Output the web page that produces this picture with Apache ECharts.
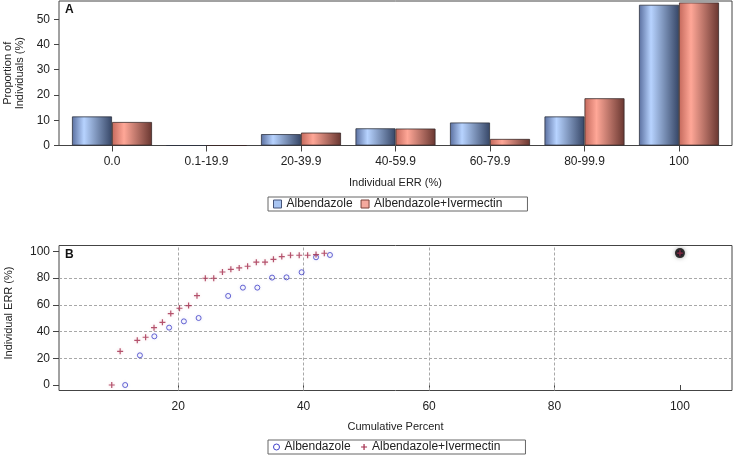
<!DOCTYPE html>
<html><head><meta charset="utf-8">
<script src="https://cdn.jsdelivr.net/npm/echarts@6/dist/echarts.min.js"></script>
<style>html,body{margin:0;padding:0;background:#fff}#c{width:733px;height:456px}</style>
</head><body><div id="c"></div>
<script>
// ---- Panel A data ----
const categories = ['0.0', '0.1-19.9', '20-39.9', '40-59.9', '60-79.9', '80-99.9', '100'];
const albendazoleBars = [11.5, 0, 4.5, 6.8, 9.1, 11.5, 55.7];
const albIvermectinBars = [9.3, 0, 5.1, 6.7, 2.6, 18.7, 56.6];
const yTicksA = [0, 10, 20, 30, 40, 50];

// ---- Panel B data: [cumulative percent, individual ERR] ----
const albendazolePoints = [[11.55,0],[13.9,22.2],[16.2,36.4],[18.56,42.9],[20.91,47.6],[23.26,50.1],[27.97,66.6],[30.32,72.8],[32.62,72.8],[34.97,80.3],[37.27,80.5],[39.68,84.3],[41.98,95.5],[44.2,97.2],[100,98.6]];
const albIvermectinPoints = [[9.41,0],[10.75,25.2],[13.48,33.4],[14.81,35.7],[16.15,42.9],[17.49,46.9],[18.82,53.4],[20.21,57.4],[21.66,59.4],[23.0,66.8],[24.33,79.8],[25.67,79.8],[27.06,84.5],[28.4,86.5],[29.73,87.5],[31.07,88.8],[32.46,91.8],[33.85,91.8],[35.19,94.0],[36.52,96.0],[37.91,97.0],[39.3,97.0],[40.64,97.0],[41.98,97.5],[43.3,98.5],[100,98.6]];
const overlapPoint = [[100, 98.6]];
const xTicksB = [20, 40, 60, 80, 100];
const yTicksB = [0, 20, 40, 60, 80, 100];
const refLinesB = [20, 40, 60, 80];

const FONT = '"Liberation Sans", Arial, sans-serif';
const TXT = '#222';
const FRAME = '#444';
const BLUE_PT = '#4040c8';
const RED_PT = '#a32c4c';
const crossPath = 'path://M5,0L5,10M0,5L10,5';

const blueGrad = new echarts.graphic.LinearGradient(0, 0, 1, 0, [
  {offset: 0, color: '#5a6f9f'}, {offset: 0.3, color: '#b7d3ff'}, {offset: 1, color: '#364666'}]);
const redGrad = new echarts.graphic.LinearGradient(0, 0, 1, 0, [
  {offset: 0, color: '#c4695c'}, {offset: 0.3, color: '#ffa797'}, {offset: 1, color: '#683630'}]);

const chart = echarts.init(document.getElementById('c'), null, {renderer: 'canvas'});

const refMarkData = refLinesB.map(v => ({xAxis: v})).concat(refLinesB.map(v => ({yAxis: v})));

const option = {
  animation: false,
  textStyle: {fontFamily: FONT},
  title: [
    {text: 'A', left: 65, top: 4, padding: 0, textStyle: {fontSize: 12, fontWeight: 'bold', color: '#111', fontFamily: FONT}},
    {text: 'B', left: 65, top: 249, padding: 0, textStyle: {fontSize: 12, fontWeight: 'bold', color: '#111', fontFamily: FONT}}
  ],
  legend: [
    {
      left: 268, top: 197, padding: [1, 25, 1, 5], itemGap: 8, itemWidth: 8, itemHeight: 8,
      borderColor: '#666', borderWidth: 1, selectedMode: false,
      textStyle: {fontSize: 12, color: TXT, fontFamily: FONT},
      data: [
        {name: 'Albendazole', icon: 'rect', itemStyle: {color: '#a9c5f2', borderColor: '#46557a', borderWidth: 1}},
        {name: 'Albendazole+Ivermectin', icon: 'rect', itemStyle: {color: '#f4a99d', borderColor: '#7a4038', borderWidth: 1}}
      ]
    },
    {
      left: 268, top: 440, padding: [1, 25, 1, 5], itemGap: 8, itemWidth: 6, itemHeight: 6,
      borderColor: '#666', borderWidth: 1, selectedMode: false,
      textStyle: {fontSize: 12, color: TXT, fontFamily: FONT},
      data: [
        {name: 'Albendazole', icon: 'circle', itemStyle: {color: 'rgba(0,0,0,0)', borderColor: BLUE_PT, borderWidth: 1}},
        {name: 'Albendazole+Ivermectin', icon: crossPath, itemStyle: {color: 'none', borderColor: RED_PT, borderWidth: 1.2}}
      ]
    }
  ],
  grid: [
    {left: 59, top: 1, width: 673, height: 144.5, show: true, borderColor: FRAME, borderWidth: 1, backgroundColor: 'transparent', outerBoundsMode: 'none', containLabel: false},
    {left: 64.75, top: 1, width: 661.5, height: 144.5, show: false, outerBoundsMode: 'none', containLabel: false},
    {left: 59, top: 245.5, width: 673, height: 145, show: true, borderColor: FRAME, borderWidth: 1, backgroundColor: 'transparent', outerBoundsMode: 'none', containLabel: false}
  ],
  xAxis: [
    {gridIndex: 0, type: 'value', min: 0, max: 1, show: false},
    {
      gridIndex: 1, type: 'category', data: categories,
      axisLine: {show: false},
      axisTick: {show: true, alignWithLabel: true, length: 6, lineStyle: {color: FRAME}},
      axisLabel: {fontSize: 12, color: TXT, margin: 10, interval: 0, fontFamily: FONT},
      splitLine: {show: false},
      name: 'Individual ERR (%)', nameLocation: 'middle', nameGap: 32,
      nameTextStyle: {fontSize: 11, color: TXT, fontFamily: FONT}
    },
    {
      gridIndex: 2, type: 'value', min: 1.0, max: 108.3,
      axisLine: {show: false},
      axisTick: {show: true, length: 6, lineStyle: {color: FRAME}, customValues: xTicksB},
      axisLabel: {fontSize: 12, color: TXT, margin: 10, customValues: xTicksB, fontFamily: FONT},
      splitLine: {show: false},
      name: 'Cumulative Percent', nameLocation: 'middle', nameGap: 31,
      nameTextStyle: {fontSize: 11, color: TXT, fontFamily: FONT}
    }
  ],
  yAxis: [
    {
      gridIndex: 0, type: 'value', min: 0, max: 57.2,
      axisLine: {show: false},
      axisTick: {show: true, length: 5, lineStyle: {color: FRAME}, customValues: yTicksA},
      axisLabel: {fontSize: 12, color: TXT, margin: 9, customValues: yTicksA, fontFamily: FONT},
      splitLine: {show: false},
      name: 'Proportion of\nIndividuals (%)', nameLocation: 'middle', nameGap: 33,
      nameTextStyle: {fontSize: 11, color: TXT, lineHeight: 12, fontFamily: FONT}
    },
    {gridIndex: 1, type: 'value', min: 0, max: 57.2, show: false},
    {
      gridIndex: 2, type: 'value', min: -4.1, max: 104.3,
      axisLine: {show: false},
      axisTick: {show: true, length: 6, lineStyle: {color: FRAME}, customValues: yTicksB},
      axisLabel: {fontSize: 12, color: TXT, margin: 9, customValues: yTicksB, fontFamily: FONT},
      splitLine: {show: false},
      name: 'Individual ERR (%)', nameLocation: 'middle', nameGap: 45,
      nameTextStyle: {fontSize: 11, color: TXT, fontFamily: FONT, padding: [0, 0, 0, 10]}
    }
  ],
  series: [
    {
      type: 'bar', name: 'Albendazole', xAxisIndex: 1, yAxisIndex: 1, data: albendazoleBars,
      barWidth: 40, barGap: '0%', silent: true,
      itemStyle: {color: blueGrad, borderColor: '#2e3440', borderWidth: 0.8}
    },
    {
      type: 'bar', name: 'Albendazole+Ivermectin', xAxisIndex: 1, yAxisIndex: 1, data: albIvermectinBars,
      barWidth: 40, barGap: '0%', silent: true,
      itemStyle: {color: redGrad, borderColor: '#3a2a28', borderWidth: 0.8}
    },
    {
      type: 'scatter', name: 'refLines', xAxisIndex: 2, yAxisIndex: 2, data: [], silent: true, z: 1,
      markLine: {
        silent: true, symbol: ['none', 'none'], label: {show: false}, z: 1,
        lineStyle: {type: [3, 2], color: '#a8a8a8', width: 1},
        emphasis: {disabled: true},
        data: refMarkData
      }
    },
    {
      type: 'scatter', name: 'Albendazole', xAxisIndex: 2, yAxisIndex: 2, data: albendazolePoints,
      symbol: 'circle', symbolSize: 5, silent: true, z: 3,
      itemStyle: {color: 'rgba(0,0,0,0)', borderColor: BLUE_PT, borderWidth: 1, shadowBlur: 3, shadowColor: 'rgba(60,60,200,0.25)'}
    },
    {
      type: 'scatter', name: 'overlap', xAxisIndex: 2, yAxisIndex: 2, data: overlapPoint,
      symbol: 'circle', symbolSize: 10, silent: true, z: 4,
      itemStyle: {color: '#050505', shadowBlur: 4, shadowColor: 'rgba(0,0,0,0.45)'}
    },
    {
      type: 'scatter', name: 'Albendazole+Ivermectin', xAxisIndex: 2, yAxisIndex: 2, data: albIvermectinPoints,
      symbol: crossPath, symbolSize: 6, silent: true, z: 5,
      itemStyle: {color: 'none', borderColor: RED_PT, borderWidth: 1.2, shadowBlur: 3, shadowColor: 'rgba(200,60,80,0.25)'}
    }
  ]
};
chart.setOption(option);
</script>
</body></html>
